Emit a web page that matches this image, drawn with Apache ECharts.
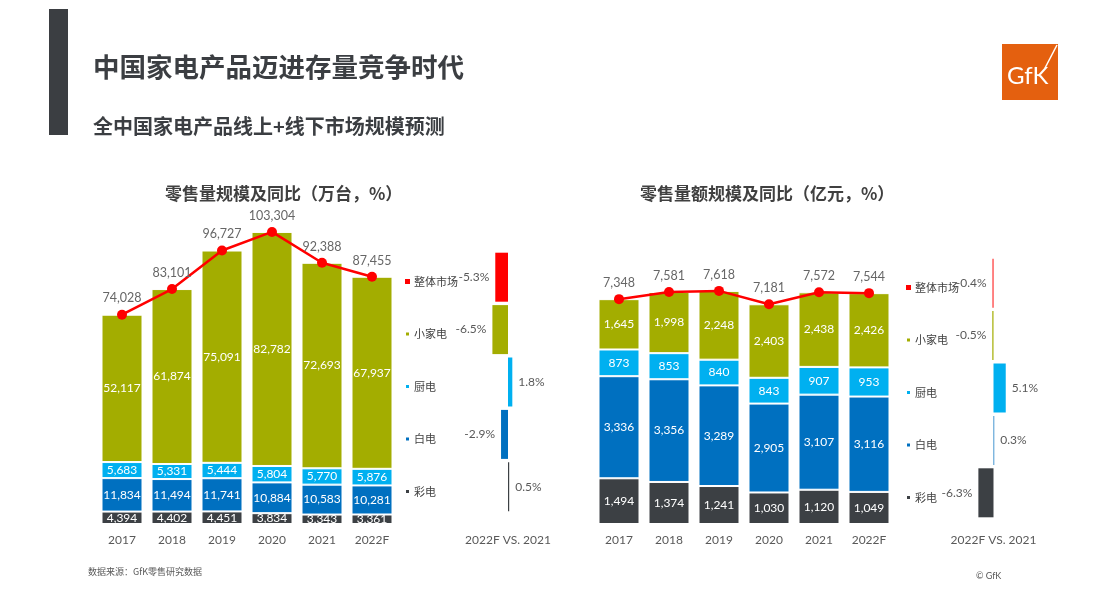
<!DOCTYPE html>
<html>
<head>
<meta charset="utf-8">
<script src="https://cdn.jsdelivr.net/npm/echarts@6/dist/echarts.min.js"></script>
<style>
html,body{margin:0;padding:0;background:#fff;}
#chart{width:1094px;height:609px;}
</style>
</head>
<body>
<div id="chart"></div>
<script>
// ---- data ----
const years = ['2017', '2018', '2019', '2020', '2021', '2022F'];
// 零售量 (万台)
const volTV = [4394, 4402, 4451, 3834, 3343, 3361];
const volWhite = [11834, 11494, 11741, 10884, 10583, 10281];
const volKitchen = [5683, 5331, 5444, 5804, 5770, 5876];
const volSmall = [52117, 61874, 75091, 82782, 72693, 67937];
const volTotal = [74028, 83101, 96727, 103304, 92388, 87455];
// 零售额 (亿元)
const valTV = [1494, 1374, 1241, 1030, 1120, 1049];
const valWhite = [3336, 3356, 3289, 2905, 3107, 3116];
const valKitchen = [873, 853, 840, 843, 907, 953];
const valSmall = [1645, 1998, 2248, 2403, 2438, 2426];
const valTotal = [7348, 7581, 7618, 7181, 7572, 7544];
// 2022F vs 2021 (%)
const yoyCats = ['整体市场', '小家电', '厨电', '白电', '彩电'];
const volYoY = [-5.3, -6.5, 1.8, -2.9, 0.5];
const valYoY = [-0.4, -0.5, 5.1, 0.3, -6.3];

// ---- styles ----
const C = { total: '#ff0000', small: '#a3ad00', kitchen: '#00b0f0', white: '#0070c0', tv: '#3c4044' };
const catColors = [C.total, C.small, C.kitchen, C.white, C.tv];
const FONT = 'Lato, "Noto Sans CJK SC", sans-serif';
const CJK = '"Noto Sans CJK SC", sans-serif';
const fmt = v => Number(v).toLocaleString('en-US');

const chart = echarts.init(document.getElementById('chart'));

function stackSeries(name, data, color, gi, stack) {
  return {
    type: 'bar', name, data, stack, xAxisIndex: gi, yAxisIndex: gi,
    barWidth: 41,
    itemStyle: { color, borderColor: '#fff', borderWidth: 1 },
    label: { show: true, position: 'inside', color: '#fff', fontFamily: FONT, fontSize: 12,
      formatter: p => fmt(p.value) },
    emphasis: { disabled: true }
  };
}
function lineSeries(data, gi) {
  return {
    type: 'line', name: '整体市场', data, xAxisIndex: gi, yAxisIndex: gi, z: 5,
    symbol: 'circle', symbolSize: 10,
    lineStyle: { color: C.total, width: 2.5 }, itemStyle: { color: C.total },
    label: { show: true, position: 'top', distance: 5, color: '#666666', fontFamily: FONT, fontSize: 12.5,
      formatter: p => fmt(p.value) }
  };
}
function yoySeries(data, gi) {
  return {
    type: 'bar', name: '同比', xAxisIndex: gi, yAxisIndex: gi, barWidth: 49,
    data: data.map((v, i) => ({
      value: v,
      itemStyle: { color: catColors[i] },
      label: { position: v < 0 ? 'left' : 'right' }
    })),
    label: { show: true, distance: 6, color: '#595959', fontFamily: FONT, fontSize: 12,
      formatter: p => p.value.toFixed(1) + '%' }
  };
}
const catX = gi => ({
  type: 'category', gridIndex: gi, data: years,
  axisLine: { show: false }, axisTick: { show: false },
  axisLabel: { color: '#595959', fontFamily: FONT, fontSize: 12, margin: 10 }
});
const valY = (gi, max) => ({ type: 'value', gridIndex: gi, min: 0, max, show: false });
const yoyX = (gi, gap) => ({
  type: 'value', gridIndex: gi, min: -10, max: 10,
  axisLine: { show: false }, axisTick: { show: false }, axisLabel: { show: false }, splitLine: { show: false },
  name: '2022F VS. 2021', nameLocation: 'middle', nameGap: gap,
  nameTextStyle: { color: '#595959', fontFamily: FONT, fontSize: 12 }
});
const yoyY = gi => ({ type: 'category', gridIndex: gi, data: yoyCats, inverse: true, show: false });
const legend = (left, top) => ({
  orient: 'vertical', left, top, padding: 0, itemWidth: 5, itemHeight: 5, itemGap: 41.5, icon: 'rect',
  textStyle: { color: '#404040', fontFamily: CJK, fontSize: 11, padding: [0, 0, 0, -1] },
  data: yoyCats, selectedMode: false
});

chart.setOption({
  backgroundColor: '#fff',
  animation: false,
  title: [
    { text: '中国家电产品迈进存量竞争时代', left: 93, top: 54, padding: 0,
      textStyle: { color: '#3b3e42', fontFamily: CJK, fontSize: 26.5, fontWeight: 'bold' } },
    { text: '全中国家电产品线上+线下市场规模预测', left: 93, top: 116, padding: 0,
      textStyle: { color: '#3b3e42', fontFamily: CJK, fontSize: 20, fontWeight: 'bold' } },
    { text: '零售量规模及同比（万台，%）', left: 165, top: 185, padding: 0,
      textStyle: { color: '#404040', fontFamily: CJK, fontSize: 17, fontWeight: 'bold' } },
    { text: '零售量额规模及同比（亿元，%）', left: 640, top: 185, padding: 0,
      textStyle: { color: '#404040', fontFamily: CJK, fontSize: 17, fontWeight: 'bold' } },
    { text: '数据来源：GfK零售研究数据', left: 88, top: 567, padding: 0,
      textStyle: { color: '#595959', fontFamily: CJK, fontSize: 9, fontWeight: 'normal' } },
    { text: '© GfK', left: 976, top: 572, padding: 0,
      textStyle: { color: '#595959', fontFamily: FONT, fontSize: 9, fontWeight: 'normal' } }
  ],
  legend: [legend(404, 276), legend(905, 282)],
  grid: [
    { left: 97, top: 213, width: 300, height: 311 },
    { left: 484, top: 251, width: 48, height: 262 },
    { left: 594, top: 218, width: 300, height: 306 },
    { left: 969.5, top: 257, width: 48, height: 262 }
  ],
  xAxis: [catX(0), yoyX(1, 21), catX(2), yoyX(3, 15)],
  yAxis: [valY(0, 110000), yoyY(1), valY(2, 10000), yoyY(3)],
  series: [
    stackSeries('彩电', volTV, C.tv, 0, 'vol'),
    stackSeries('白电', volWhite, C.white, 0, 'vol'),
    stackSeries('厨电', volKitchen, C.kitchen, 0, 'vol'),
    stackSeries('小家电', volSmall, C.small, 0, 'vol'),
    lineSeries(volTotal, 0),
    yoySeries(volYoY, 1),
    stackSeries('彩电', valTV, C.tv, 2, 'val'),
    stackSeries('白电', valWhite, C.white, 2, 'val'),
    stackSeries('厨电', valKitchen, C.kitchen, 2, 'val'),
    stackSeries('小家电', valSmall, C.small, 2, 'val'),
    lineSeries(valTotal, 2),
    yoySeries(valYoY, 3)
  ],
  graphic: [
    { type: 'rect', left: 49, top: 9, shape: { width: 19, height: 126 }, style: { fill: '#3b3e42' } },
    { type: 'rect', left: 1002, top: 44, shape: { width: 56, height: 56 }, style: { fill: '#e4600f' } },
    { type: 'text', left: 1007, top: 64, style: { text: 'GfK', fill: '#fff', font: '24px Lato, sans-serif' } },
    { type: 'line', shape: { x1: 1045, y1: 68, x2: 1057, y2: 45 }, style: { stroke: '#fff', lineWidth: 1.5 } }
  ]
});
</script>
</body>
</html>
